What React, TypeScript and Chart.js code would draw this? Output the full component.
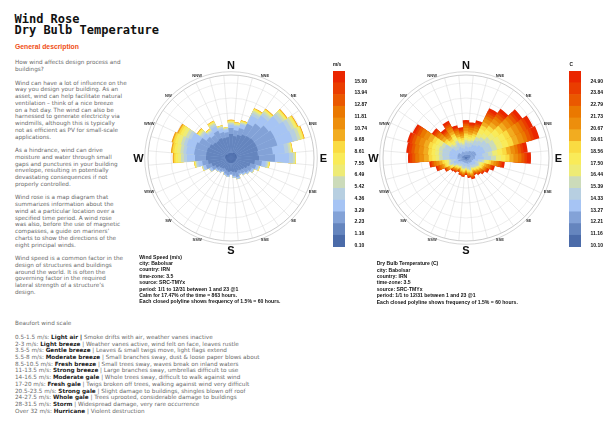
import React, { useEffect, useRef } from 'react';
import { Chart, registerables } from 'chart.js';
Chart.register(...registerables);

// ---------- data ----------
const sectorLabels = ['0°','10°','20°','30°','40°','50°','60°','70°','80°','90°','100°','110°','120°','130°','140°','150°','160°','170°','180°','190°','200°','210°','220°','230°','240°','250°','260°','270°','280°','290°','300°','310°','320°','330°','340°','350°'];
const compassLabels = ['N','NNE','NE','ENE','E','ESE','SE','SSE','S','SSW','SW','WSW','W','WNW','NW','NNW'];

const speedLegend = ['0.10','1.16','2.23','3.29','4.36','5.42','6.49','7.55','8.61','9.68','10.74','11.81','12.87','13.94','15.00'];
const tempLegend = ['10.10','11.16','12.21','13.27','14.33','15.39','16.44','17.50','18.56','19.61','20.67','21.73','22.79','23.84','24.90'];

// hours per wind-speed bin, per direction (0°,10°,...,350°)
const spd0 = [20,20,20,24,24,24,24,24,24,24,20,20,20,20,20,20,20,20,20,20,20,20,20,20,20,20,20,24,24,24,24,20,20,20,20,20];
const spd1 = [76,68,76,80,84,88,88,88,84,88,76,60,52,44,40,36,40,36,32,36,32,28,32,36,48,60,72,76,76,76,72,68,64,68,64,64];
const spd2 = [24,24,28,48,60,72,80,80,60,64,28,24,20,20,16,14,20,16,12,14,14,12,14,14,16,24,24,44,48,48,44,32,28,32,24,20];
const spd3 = [12,16,16,36,40,52,60,64,48,56,16,8,8,6,6,5,6,6,4,6,6,4,6,6,9,10,16,32,32,36,36,20,16,20,14,10];
const spd4 = [6,4,4,12,12,16,16,20,16,16,6,4,2,2,2,1,2,2,0,0,0,0,0,0,3,3,6,12,12,12,12,8,6,8,6,4];
const spd5 = [4,4,4,8,8,10,12,12,8,8,4,2,2,0,0,0,0,0,0,0,0,0,0,0,0,2,4,12,12,12,12,6,4,6,4,3];
const spd6 = [4,4,3,5,5,6,8,8,4,2,3,2,0,0,0,0,0,0,0,0,0,0,0,0,0,1,3,12,14,14,14,6,3,4,2,2];
const spd7 = [3,2,2,3,3,4,4,4,2,1,2,0,0,0,0,0,0,0,0,0,0,0,0,0,0,0,2,10,10,10,10,4,2,3,1,1];
const spd8 = [2,1,2,2,2,2,2,2,1,1,1,0,0,0,0,0,0,0,0,0,0,0,0,0,0,0,1,6,8,8,8,2,1,2,1,0];
const spd9 = [2,1,1,2,2,2,2,2,1,0,0,0,0,0,0,0,0,0,0,0,0,0,0,0,0,0,0,4,4,4,4,2,1,1,0,0];
const spd10 = [0,0,0,0,0,1,1,1,0,0,0,0,0,0,0,0,0,0,0,0,0,0,0,0,0,0,0,1,1,2,2,0,0,0,0,0];

// hours per dry-bulb temperature bin, per direction (0°,10°,...,350°)
const tmp0 = [4,4,4,5,5,6,6,6,5,5,4,3,4,4,4,3,4,3,3,3,3,3,3,3,4,5,3,5,5,5,5,4,4,4,4,3];
const tmp1 = [8,8,8,9,10,12,13,13,11,11,9,7,8,8,7,6,8,7,6,6,6,6,6,6,8,10,6,10,10,10,10,7,8,9,8,7];
const tmp2 = [15,14,16,18,19,22,24,24,20,20,16,12,15,13,12,11,12,11,10,11,10,9,10,11,13,17,12,19,19,20,19,13,14,16,14,12];
const tmp3 = [19,17,19,26,29,33,35,36,30,35,20,15,16,14,13,12,14,13,10,12,12,10,11,12,16,19,21,32,34,34,32,23,18,21,16,16];
const tmp4 = [16,16,17,21,23,27,29,29,24,29,16,13,12,10,10,9,10,9,8,9,9,7,9,9,12,14,18,27,28,29,28,20,15,17,14,13];
const tmp5 = [9,9,9,15,17,19,21,21,17,20,9,7,5,5,4,4,4,4,3,4,4,3,4,4,5,6,9,14,14,15,14,10,9,10,8,7];
const tmp6 = [9,9,10,18,19,22,24,24,20,20,9,7,5,5,4,4,5,4,4,4,3,3,4,4,5,6,9,14,15,15,14,10,8,10,8,8];
const tmp7 = [9,8,9,18,19,22,23,24,20,18,9,7,5,4,4,4,4,4,3,4,4,3,3,4,5,6,9,14,14,14,14,10,9,10,8,7];
const tmp8 = [9,9,9,15,17,19,21,21,17,16,9,7,5,5,4,4,4,4,3,4,3,3,4,4,5,6,9,14,14,15,14,10,9,10,8,8];
const tmp9 = [11,10,11,15,17,19,21,21,17,16,11,8,5,4,4,4,5,4,4,4,4,3,3,4,5,6,12,19,19,19,19,13,10,11,10,9];
const tmp10 = [11,10,11,16,17,20,21,22,17,18,11,8,5,5,4,3,4,4,3,4,3,3,4,4,5,7,12,19,19,20,19,14,10,12,9,8];
const tmp11 = [9,9,9,11,12,14,15,15,12,14,9,7,5,4,4,4,4,4,3,3,4,3,3,3,4,7,10,16,17,17,17,12,9,10,8,7];
const tmp12 = [8,7,8,11,12,14,15,15,12,12,8,6,4,4,4,3,4,3,3,3,3,3,3,3,4,6,7,12,12,12,12,8,7,8,7,6];
const tmp13 = [6,6,6,9,10,11,12,12,10,10,6,5,4,4,3,3,3,3,3,3,3,3,3,3,3,6,6,9,10,10,9,7,6,7,5,5];
const tmp14 = [9,8,10,13,14,16,16,21,16,16,10,8,6,3,3,2,3,3,2,2,1,2,2,2,2,5,5,8,10,9,10,7,8,9,9,8];

const speedBins = [spd0, spd1, spd2, spd3, spd4, spd5, spd6, spd7, spd8, spd9, spd10];
const tempBins = [tmp0, tmp1, tmp2, tmp3, tmp4, tmp5, tmp6, tmp7, tmp8, tmp9, tmp10, tmp11, tmp12, tmp13, tmp14];

const legendColors = [
  'rgb(75,107,169)', 'rgb(101,133,190)', 'rgb(131,162,215)', 'rgb(166,196,244)', 'rgb(183,207,225)',
  'rgb(204,219,186)', 'rgb(238,235,118)', 'rgb(249,235,89)', 'rgb(250,219,66)', 'rgb(242,172,32)',
  'rgb(237,142,12)', 'rgb(234,120,0)', 'rgb(234,88,0)', 'rgb(234,61,0)', 'rgb(234,38,0)'
];

const descLines = [
  'How wind affects design process and',
  'buildings?',
  '',
  'Wind can have a lot of influence on the',
  'way you design your building. As an',
  'asset, wind can help facilitate natural',
  'ventilation \u2013 think of a nice breeze',
  'on a hot day. The wind can also be',
  'harnessed to generate electricity via',
  'windmills, although this is typically',
  'not as efficient as PV for small-scale',
  'applications.',
  '',
  'As a hindrance, wind can drive',
  'moisture and water through small',
  'gaps and punctures in your building',
  'envelope, resulting in potentially',
  'devastating consequences if not',
  'properly controlled.',
  '',
  'Wind rose is a map diagram that',
  'summarizes information about the',
  'wind at a particular location over a',
  'specified time period. A wind rose',
  'was also, before the use of magnetic',
  'compasses, a guide on mariners\u2019',
  'charts to show the directions of the',
  'eight principal winds.',
  '',
  'Wind speed is a common factor in the',
  'design of structures and buildings',
  'around the world. It is often the',
  'governing factor in the required',
  'lateral strength of a structure\u2019s',
  'design.'
];

const beaufortRows = [
  ['0.5-1.5 m/s: ', 'Light air |', ' Smoke drifts with air, weather vanes inactive'],
  ['2-3 m/s: ', 'Light breeze', ' | Weather vanes active, wind felt on face, leaves rustle'],
  ['3.5-5 m/s: ', 'Gentle breeze', ' | Leaves & small twigs move, light flags extend'],
  ['5.5-8 m/s: ', 'Moderate breeze', ' | Small branches sway, dust & loose paper blows about'],
  ['8.5-10.5 m/s: ', 'Fresh breeze', ' | Small trees sway, waves break on inland waters'],
  ['11-13.5 m/s: ', 'Strong breeze', ' | Large branches sway, umbrellas difficult to use'],
  ['14-16.5 m/s: ', 'Moderate gale', ' | Whole trees sway, difficult to walk against wind'],
  ['17-20 m/s: ', 'Fresh gale', ' | Twigs broken off trees, walking against wind very difficult'],
  ['20.5-23.5 m/s: ', 'Strong gale', ' | Slight damage to buildings, shingles blown off roof'],
  ['24-27.5 m/s: ', 'Whole gale', ' | Trees uprooted, considerable damage to buildings'],
  ['28-31.5 m/s: ', 'Storm', ' | Widespread damage, very rare occurrence'],
  ['Over 32 m/s: ', 'Hurricane', ' | Violent destruction']
];

const speedCaption = [
  'Wind Speed (m/s)',
  'city: Babolsar',
  'country: IRN',
  'time-zone: 3.5',
  'source: SRC-TMYx',
  'period: 1/1 to 12/31 between 1 and 23 @1',
  'Calm for 17.47% of the time = 863 hours.',
  'Each closed polyline shows frequency of 1.5% = 60 hours.'
];
const tempCaption = [
  'Dry Bulb Temperature (C)',
  'city: Babolsar',
  'country: IRN',
  'time-zone: 3.5',
  'source: SRC-TMYx',
  'period: 1/1 to 12/31 between 1 and 23 @1',
  'Each closed polyline shows frequency of 1.5% = 60 hours.'
];

const R_MAX = 332; // hours at outer ring
const R_STEP = 60; // 1.5% = 60 hours

// ---------- plugins ----------
const compassPlugin = {
  id: 'compass',
  afterDraw(chart: any) {
    const s = chart.scales.r;
    const ctx = chart.ctx;
    const cx = s.xCenter, cy = s.yCenter, R = s.drawingArea;
    ctx.save();
    ctx.strokeStyle = '#c6c6c6';
    ctx.lineWidth = 0.7;
    ctx.beginPath();
    ctx.arc(cx, cy, R + 3.3, 0, Math.PI * 2);
    ctx.stroke();
    ctx.textAlign = 'center';
    ctx.textBaseline = 'middle';
    compassLabels.forEach((lab, k) => {
      const a = (k * 22.5 * Math.PI) / 180;
      const major = k % 4 === 0;
      const r = R + (major ? 9.5 : 5.5);
      ctx.font = major ? 'bold 11px "Liberation Sans", Arial, sans-serif' : 'bold 4px "Liberation Sans", Arial, sans-serif';
      ctx.fillStyle = major ? '#111' : '#333';
      ctx.fillText(lab, cx + r * Math.sin(a), cy - r * Math.cos(a) + (major ? 0.5 : 0));
    });
    ctx.restore();
  }
};

function Rose({ bins, left, top }: { bins: number[][]; left: number; top: number }) {
  const ref = useRef<HTMLCanvasElement | null>(null);
  useEffect(() => {
    const cumulative: number[][] = [];
    let run = bins[0].map(() => 0);
    bins.forEach((b) => {
      run = run.map((v, i) => v + b[i]);
      cumulative.push(run);
    });
    const chart = new Chart(ref.current as HTMLCanvasElement, {
      type: 'polarArea',
      data: {
        labels: sectorLabels,
        datasets: cumulative.map((d, k) => ({
          data: d,
          backgroundColor: legendColors[k],
          borderWidth: 0
        }))
      },
      options: {
        responsive: false,
        animation: false,
        events: [],
        layout: { padding: 32 },
        plugins: { legend: { display: false }, tooltip: { enabled: false } },
        scales: {
          r: {
            min: 0,
            max: R_MAX,
            startAngle: -5,
            ticks: { display: false, stepSize: R_STEP },
            grid: {
              circular: true,
              color: (c: any) => (c.tick && c.tick.value === R_MAX ? '#bdbdbd' : '#e2e2e2'),
              lineWidth: (c: any) => (c.tick && c.tick.value === R_MAX ? 0.8 : 0.6)
            },
            angleLines: { display: true, color: '#d4d4d4', lineWidth: 0.5 },
            pointLabels: { display: false }
          }
        }
      } as any,
      plugins: [compassPlugin]
    });
    return () => chart.destroy();
  }, []);
  return (
    <canvas ref={ref} width={230} height={230}
      style={{ position: 'absolute', left, top, width: 230, height: 230 }} />
  );
}

function ColorBar({ labels, left, top }: { labels: string[]; left: number; top: number }) {
  const ref = useRef<HTMLCanvasElement | null>(null);
  useEffect(() => {
    const chart = new Chart(ref.current as HTMLCanvasElement, {
      type: 'bar',
      data: {
        labels: [''],
        datasets: legendColors.map((c) => ({
          data: [1],
          backgroundColor: c,
          borderWidth: 0,
          barPercentage: 1,
          categoryPercentage: 1
        }))
      },
      options: {
        responsive: false,
        animation: false,
        events: [],
        layout: { padding: { top: 6, bottom: 6, left: 0, right: 0 } },
        plugins: { legend: { display: false }, tooltip: { enabled: false } },
        scales: {
          x: { display: false, stacked: true },
          y: {
            stacked: true,
            position: 'right',
            min: 0,
            max: labels.length,
            grid: { display: false },
            border: { display: false },
            afterFit: (s: any) => { s.width = 26; },
            ticks: {
              stepSize: 1,
              autoSkip: false,
              padding: 1.5,
              labelOffset: -1.5,
              color: '#111',
              font: { size: 5, weight: 'bold', family: '"Liberation Sans", Arial, sans-serif' },
              callback: (v: any) => (labels[v] !== undefined ? labels[v] : '')
            }
          }
        }
      } as any
    });
    return () => chart.destroy();
  }, []);
  return (
    <canvas ref={ref} width={38} height={188}
      style={{ position: 'absolute', left, top, width: 38, height: 188 }} />
  );
}

const abs = (left: number, top: number): React.CSSProperties => ({ position: 'absolute', left, top, whiteSpace: 'pre', margin: 0 });

export default function App() {
  const captionFont = 'bold 5.1px "Liberation Sans", Arial, sans-serif';
  return (
    <div style={{ position: 'absolute', left: 0, top: 0, width: 615, height: 435, background: '#fff', overflow: 'hidden' }}>
      <div style={{ ...abs(14.5, 13.7), font: 'bold 12px "DejaVu Sans Mono", monospace', lineHeight: '11px', color: '#111' }}>
        {'Wind Rose\nDry Bulb Temperature'}
      </div>
      <div style={{ ...abs(15, 43.3), font: 'bold 6.8px "Liberation Sans", Arial, sans-serif', lineHeight: '8px', color: 'rgb(240,78,20)' }}>
        General description
      </div>
      <div style={{ ...abs(15, 59.3), font: '5.7px "DejaVu Sans", sans-serif', lineHeight: '6.75px', color: '#6a6a6a' }}>
        {descLines.join('\n')}
      </div>
      <div style={{ ...abs(15, 319.9), font: '5.7px "DejaVu Sans", sans-serif', lineHeight: '6.75px', color: '#6a6a6a' }}>
        Beaufort wind scale
      </div>
      <div style={{ ...abs(15, 333.95), font: '5.7px "DejaVu Sans", sans-serif', lineHeight: '6.7px', color: '#6a6a6a' }}>
        {beaufortRows.map((r, i) => (
          <div key={i}>
            {r[0]}<b style={{ color: '#1a1a1a' }}>{r[1]}</b>{r[2]}
          </div>
        ))}
      </div>

      <Rose bins={speedBins} left={116} top={43} />
      <Rose bins={tempBins} left={351} top={43} />

      <div style={{ ...abs(333, 62), font: 'bold 4.8px "Liberation Sans", Arial, sans-serif', lineHeight: '6px', color: '#111' }}>m/s</div>
      <ColorBar labels={speedLegend} left={333} top={65} />
      <div style={{ ...abs(569.5, 62), font: 'bold 4.8px "Liberation Sans", Arial, sans-serif', lineHeight: '6px', color: '#111' }}>C</div>
      <ColorBar labels={tempLegend} left={569} top={65} />

      <div style={{ ...abs(139.3, 253.5), font: captionFont, lineHeight: '6.4px', color: '#111' }}>
        {speedCaption.join('\n')}
      </div>
      <div style={{ ...abs(376.7, 260.1), font: captionFont, lineHeight: '6.4px', color: '#111' }}>
        {tempCaption.join('\n')}
      </div>
    </div>
  );
}
